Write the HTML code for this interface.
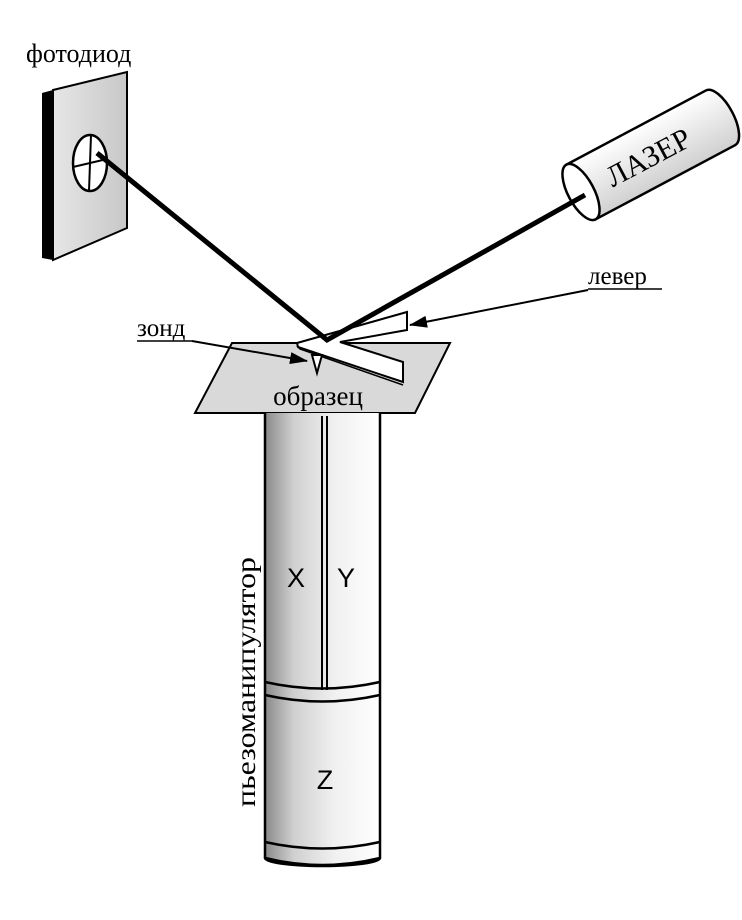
<!DOCTYPE html>
<html><head><meta charset="utf-8"><style>
html,body{margin:0;padding:0;background:#fff}
svg{display:block}
.t{font-family:"Liberation Serif",serif;fill:#000}
.a{font-family:"Liberation Sans",sans-serif;fill:#000}
</style></head><body>
<svg width="742" height="920" viewBox="0 0 742 920" xmlns="http://www.w3.org/2000/svg">
<defs>
<linearGradient id="cyl" x1="0" x2="1" y1="0" y2="0">
<stop offset="0" stop-color="#8a8a8a"/><stop offset="0.25" stop-color="#d0d0d0"/>
<stop offset="0.6" stop-color="#f0f0f0"/><stop offset="1" stop-color="#ffffff"/>
</linearGradient>
<linearGradient id="pd" x1="0" x2="1"><stop offset="0" stop-color="#e6e6e6"/><stop offset="1" stop-color="#c8c8c8"/></linearGradient>
<linearGradient id="las" x1="0" x2="0" y1="0" y2="1"><stop offset="0" stop-color="#fff"/><stop offset="1" stop-color="#d0d0d0"/></linearGradient>
<marker id="ar" markerWidth="18" markerHeight="12" refX="17" refY="6" orient="auto" markerUnits="userSpaceOnUse"><path d="M0,0 L18,6 L0,12 Z"/></marker>
</defs>
<text class="t" x="26" y="62" font-size="26">фотодиод</text>
<polygon points="42,93 53,90 53,260 42,258" fill="#000"/>
<polygon points="53,90 127,72 127,228 53,260" fill="url(#pd)" stroke="#000" stroke-width="2"/>
<ellipse cx="90" cy="163" rx="17" ry="28" fill="#fff" stroke="#000" stroke-width="2.5"/>
<line x1="91" y1="135" x2="89" y2="191" stroke="#000" stroke-width="2"/>
<line x1="73" y1="167" x2="107" y2="159" stroke="#000" stroke-width="2"/>
<g transform="translate(581,192) rotate(-28)">
<path d="M0,-31 L158,-31 A13,31 0 0 1 158,31 L0,31 Z" fill="url(#las)" stroke="#000" stroke-width="2.5"/>
<ellipse cx="0" cy="0" rx="13" ry="31" fill="#fff" stroke="#000" stroke-width="2.5"/>
<text class="t" x="30" y="11" font-size="30">ЛАЗЕР</text>
</g>
<polygon points="232,343 450,343 415,413 195,413" fill="#d9d9d9" stroke="#000" stroke-width="2"/>
<polygon points="297,343 407,312 407,330 340,342 403,362 403,382 298,347" fill="#fff" stroke="#000" stroke-width="2"/>
<polyline points="297,346 300,349 403,385" fill="none" stroke="#000" stroke-width="1.5"/>
<polygon points="312,355 322,355 317,373" fill="#fff" stroke="#000" stroke-width="2"/>
<polyline points="97,153 327,340 585,195" fill="none" stroke="#000" stroke-width="5" stroke-linejoin="miter"/>
<text class="t" x="318" y="405" font-size="27" text-anchor="middle">образец</text>
<text class="t" x="588" y="284" font-size="25">левер</text>
<line x1="588" y1="289" x2="662" y2="289" stroke="#000" stroke-width="1.5"/>
<line x1="588" y1="290" x2="410" y2="325" stroke="#000" stroke-width="2" marker-end="url(#ar)"/>
<text class="t" x="137" y="336" font-size="25">зонд</text>
<line x1="137" y1="341" x2="192" y2="341" stroke="#000" stroke-width="1.5"/>
<line x1="192" y1="341" x2="307" y2="361" stroke="#000" stroke-width="2" marker-end="url(#ar)"/>
<ellipse cx="322.5" cy="858" rx="57.5" ry="8" fill="url(#cyl)" stroke="#000" stroke-width="2.5"/>
<rect x="265" y="413" width="115" height="445" fill="url(#cyl)"/>
<line x1="265" y1="413" x2="265" y2="858" stroke="#000" stroke-width="2.5"/>
<line x1="380" y1="413" x2="380" y2="858" stroke="#000" stroke-width="2.5"/>
<path d="M265,858 Q322,872 380,858" fill="none" stroke="#000" stroke-width="2.5"/>
<path d="M265,842 Q322,855 380,842" fill="none" stroke="#000" stroke-width="2.5"/>
<path d="M265,682 Q322,695 380,682" fill="none" stroke="#000" stroke-width="2.5"/>
<path d="M265,695 Q322,708 380,695" fill="none" stroke="#000" stroke-width="2.5"/>
<line x1="322" y1="416" x2="322" y2="690" stroke="#000" stroke-width="2"/>
<line x1="327" y1="416" x2="327" y2="690" stroke="#000" stroke-width="2"/>
<text class="a" x="296" y="587" font-size="27" text-anchor="middle">X</text>
<text class="a" x="346" y="587" font-size="27" text-anchor="middle">Y</text>
<text class="a" x="325" y="789" font-size="27" text-anchor="middle">Z</text>
<text class="t" transform="translate(255,807) rotate(-90)" font-size="27" textLength="250" lengthAdjust="spacingAndGlyphs">пьезоманипулятор</text>
</svg>
</body></html>
